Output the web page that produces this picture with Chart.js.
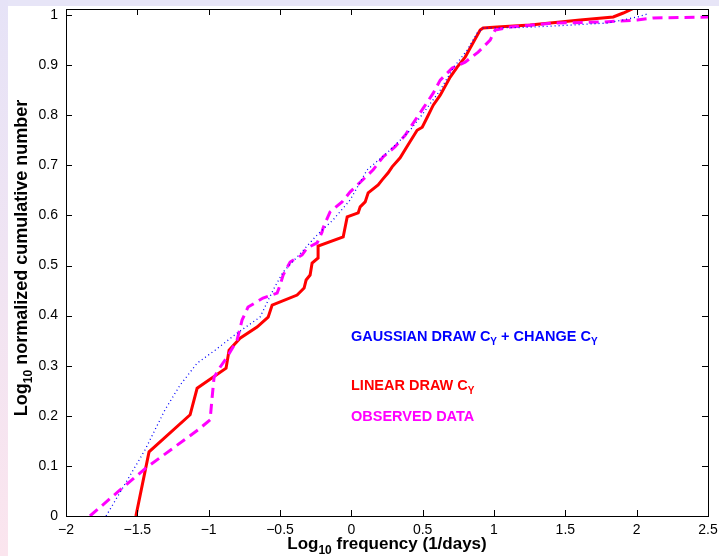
<!DOCTYPE html>
<html lang="en">
<head>
    <meta charset="UTF-8">
    <title>Log cumulative number vs frequency</title>
    <script src="https://cdn.jsdelivr.net/npm/chart.js"></script>
    <style>
        html, body { margin: 0; padding: 0; background: #fff; }
        body { width: 719px; height: 556px; position: relative; overflow: hidden; font-family: "Liberation Sans", Arial, sans-serif; }
        .strip-top { position: absolute; left: 0; top: 0; width: 719px; height: 6px; background: #e7e5f7; }
        .strip-left { position: absolute; left: 0; top: 0; width: 8px; height: 556px; background: linear-gradient(#e6e3f7, #fbe5ee); }
        #wrap { position: absolute; left: 0; top: 0; width: 719px; height: 556px; }
    </style>
</head>
<body>
    <div class="strip-top"></div>
    <div class="strip-left"></div>
    <div id="wrap"><canvas id="grafico"></canvas></div>

    <script>
        // tick labels
        const xTicks = [-2, -1.5, -1, -0.5, 0, 0.5, 1, 1.5, 2, 2.5];
        const yTicks = [0, 0.1, 0.2, 0.3, 0.4, 0.5, 0.6, 0.7, 0.8, 0.9, 1];

        // LINEAR DRAW C_Y (red, solid)
        const linearX = [-1.51, -1.418, -1.13, -1.081, -0.878, -0.857, -0.78, -0.661, -0.583, -0.555, -0.38, -0.331, -0.317, -0.289, -0.275, -0.233, -0.233, -0.057, -0.029, 0.048, 0.062, 0.097, 0.118, 0.188, 0.216, 0.258, 0.286, 0.342, 0.398, 0.461, 0.497, 0.532, 0.574, 0.623, 0.693, 0.742, 0.798, 0.833, 0.903, 0.924, 1.022, 1.254, 1.604, 1.836, 1.906, 1.969, 2.025];
        const linearY = [0, 0.128, 0.202, 0.255, 0.295, 0.331, 0.355, 0.377, 0.397, 0.421, 0.441, 0.455, 0.471, 0.481, 0.505, 0.515, 0.539, 0.557, 0.597, 0.605, 0.617, 0.627, 0.645, 0.661, 0.671, 0.685, 0.697, 0.715, 0.741, 0.77, 0.776, 0.796, 0.82, 0.84, 0.876, 0.896, 0.916, 0.934, 0.97, 0.974, 0.976, 0.98, 0.99, 0.996, 1.004, 1.012, 1.022];

        // GAUSSIAN DRAW C_Y + CHANGE C_Y (blue, dotted)
        const gaussX = [-1.719, -1.586, -1.446, -1.306, -1.201, -1.081, -0.955, -0.801, -0.64, -0.548, -0.478, -0.38, -0.24, -0.128, -0.008, 0.111, 0.251, 0.342, 0.412, 0.504, 0.623, 0.714, 0.812, 0.882, 0.924, 1.184, 1.415, 1.794, 2.004, 2.074];
        const gaussY = [0, 0.064, 0.132, 0.212, 0.261, 0.305, 0.331, 0.365, 0.397, 0.451, 0.487, 0.517, 0.561, 0.591, 0.631, 0.691, 0.725, 0.75, 0.77, 0.804, 0.85, 0.894, 0.93, 0.964, 0.974, 0.975, 0.978, 0.984, 0.996, 1.002];

        // OBSERVED DATA (magenta, dashed)
        const obsX = [-1.832, -1.621, -1.439, -1.074, -0.99, -0.976, -0.962, -0.92, -0.871, -0.801, -0.766, -0.724, -0.619, -0.52, -0.499, -0.478, -0.429, -0.345, -0.31, -0.24, -0.205, -0.198, -0.149, -0.065, -0.008, 0.153, 0.223, 0.307, 0.377, 0.447, 0.504, 0.574, 0.623, 0.707, 0.798, 0.889, 0.973, 1.008, 1.114, 1.415, 1.766, 2.004, 2.116, 2.5];
        const obsY = [0, 0.052, 0.096, 0.172, 0.192, 0.236, 0.277, 0.297, 0.317, 0.351, 0.391, 0.417, 0.435, 0.445, 0.461, 0.481, 0.507, 0.521, 0.535, 0.545, 0.567, 0.575, 0.607, 0.627, 0.647, 0.691, 0.717, 0.737, 0.76, 0.79, 0.814, 0.844, 0.87, 0.894, 0.906, 0.926, 0.95, 0.97, 0.976, 0.984, 0.986, 0.99, 0.994, 0.996];

        function pontos(xs, ys) {
            return xs.map((x, i) => ({ x: x, y: ys[i] }));
        }

        function formatarTick(v) {
            return String(Number(v.toFixed(2))).replace('-', '\u2212');
        }

        // draws text pieces, some of them as subscripts
        function desenharPartes(ctx, partes, x, y, tam, cor, centro) {
            const fonte = 'bold ' + tam + 'px "Liberation Sans", Arial, sans-serif';
            const fonteSub = 'bold ' + Math.round(tam * 0.68) + 'px "Liberation Sans", Arial, sans-serif';
            let total = 0;
            partes.forEach(p => {
                ctx.font = p.sub ? fonteSub : fonte;
                total += ctx.measureText(p.t).width;
            });
            let cx = centro ? x - total / 2 : x;
            ctx.fillStyle = cor;
            ctx.textBaseline = 'alphabetic';
            ctx.textAlign = 'left';
            partes.forEach(p => {
                ctx.font = p.sub ? fonteSub : fonte;
                ctx.fillText(p.t, cx, p.sub ? y + tam * 0.3 : y);
                cx += ctx.measureText(p.t).width;
            });
        }

        const moldura = {
            id: 'moldura',
            afterDraw(chart) {
                const ctx = chart.ctx;
                const a = chart.chartArea;
                const sx = chart.scales.x, sy = chart.scales.y;
                ctx.save();
                ctx.strokeStyle = '#000';
                ctx.lineWidth = 1;
                ctx.strokeRect(Math.round(a.left) + 0.5, Math.round(a.top) + 0.5, Math.round(a.right - a.left), Math.round(a.bottom - a.top));
                ctx.beginPath();
                const tl = 6;
                xTicks.forEach(v => {
                    const px = Math.round(sx.getPixelForValue(v)) + 0.5;
                    ctx.moveTo(px, a.bottom); ctx.lineTo(px, a.bottom - tl);
                    ctx.moveTo(px, a.top); ctx.lineTo(px, a.top + tl);
                });
                yTicks.forEach(v => {
                    const py = Math.round(sy.getPixelForValue(v)) + 0.5;
                    ctx.moveTo(a.left, py); ctx.lineTo(a.left + tl, py);
                    ctx.moveTo(a.right, py); ctx.lineTo(a.right - tl, py);
                });
                ctx.stroke();

                // texts inside the plot
                desenharPartes(ctx, [{ t: 'GAUSSIAN DRAW C' }, { t: 'Y', sub: true }, { t: ' + CHANGE C' }, { t: 'Y', sub: true }], 351, 341, 14.5, '#0000ff', false);
                desenharPartes(ctx, [{ t: 'LINEAR DRAW C' }, { t: 'Y', sub: true }], 351, 390, 14.5, '#ff0000', false);
                desenharPartes(ctx, [{ t: 'OBSERVED DATA' }], 351, 421, 14.5, '#ff00ff', false);

                // axis titles
                desenharPartes(ctx, [{ t: 'Log' }, { t: '10', sub: true }, { t: ' frequency (1/days)' }], (a.left + a.right) / 2, 549, 17, '#000', true);
                ctx.translate(27, 258);
                ctx.rotate(-Math.PI / 2);
                desenharPartes(ctx, [{ t: 'Log' }, { t: '10', sub: true }, { t: ' normalized cumulative number' }], 0, 0, 18, '#000', true);
                ctx.restore();
            }
        };

        const ctx = document.getElementById('grafico').getContext('2d');
        new Chart(ctx, {
            type: 'line',
            data: {
                datasets: [
                    {
                        label: 'GAUSSIAN DRAW CY + CHANGE CY',
                        data: pontos(gaussX, gaussY),
                        borderColor: '#0000ff',
                        borderWidth: 1.3,
                        borderDash: [1, 3],
                        order: 0
                    },
                    {
                        label: 'OBSERVED DATA',
                        data: pontos(obsX, obsY),
                        borderColor: '#ff00ff',
                        borderWidth: 3,
                        borderDash: [10, 6],
                        order: 1
                    },
                    {
                        label: 'LINEAR DRAW CY',
                        data: pontos(linearX, linearY),
                        borderColor: '#ff0000',
                        borderWidth: 3,
                        order: 2
                    }
                ]
            },
            options: {
                responsive: true,
                maintainAspectRatio: false,
                animation: false,
                devicePixelRatio: 1,
                elements: { point: { radius: 0 }, line: { tension: 0 } },
                layout: { padding: { top: 9, right: 11, left: 0, bottom: 0 } },
                plugins: { legend: { display: false }, tooltip: { enabled: false } },
                scales: {
                    x: {
                        type: 'linear',
                        min: -2,
                        max: 2.5,
                        grid: { display: false, drawTicks: false },
                        border: { display: false },
                        afterFit(s) { s.height = 40; s.paddingLeft = 0; s.paddingRight = 0; },
                        afterBuildTicks(s) { s.ticks = xTicks.map(v => ({ value: v })); },
                        ticks: {
                            color: '#000',
                            padding: 6,
                            font: { size: 14, family: '"Liberation Sans", Arial, sans-serif' },
                            maxRotation: 0,
                            callback: v => formatarTick(v)
                        }
                    },
                    y: {
                        type: 'linear',
                        min: 0,
                        max: 1.012,
                        grid: { display: false, drawTicks: false },
                        border: { display: false },
                        afterFit(s) { s.width = 66; s.paddingTop = 0; s.paddingBottom = 0; },
                        afterBuildTicks(s) { s.ticks = yTicks.map(v => ({ value: v })); },
                        ticks: {
                            color: '#000',
                            padding: 8,
                            font: { size: 14, family: '"Liberation Sans", Arial, sans-serif' },
                            callback: v => formatarTick(v)
                        }
                    }
                }
            },
            plugins: [moldura]
        });
    </script>
</body>
</html>
